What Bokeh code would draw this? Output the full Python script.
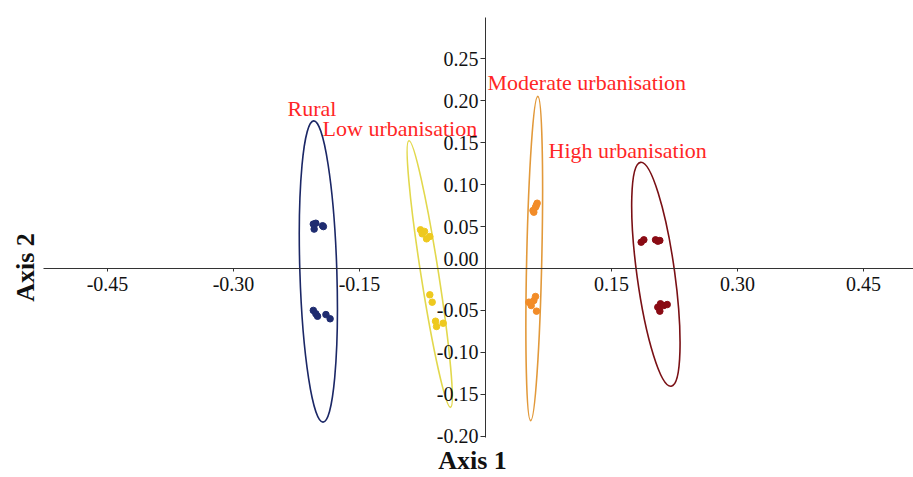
import math
from bokeh.plotting import figure
from bokeh.models import Range1d, FixedTicker, PrintfTickFormatter, Label
from bokeh.core.properties import value
from bokeh.embed import file_html
from bokeh.resources import INLINE

# ---------------- data ----------------
groups = ["Rural", "Low urbanisation", "Moderate urbanisation", "High urbanisation"]

rural_x = [-0.205, -0.202, -0.204, -0.194, -0.193, -0.205, -0.202, -0.200, -0.190, -0.185]
rural_y = [0.053, 0.054, 0.047, 0.051, 0.050, -0.050, -0.054, -0.057, -0.055, -0.060]

low_x = [-0.0774, -0.0754, -0.0726, -0.0702, -0.0663, -0.0663, -0.0635, -0.0595, -0.0583, -0.0504]
low_y = [0.0462, 0.0414, 0.0442, 0.0354, 0.0382, -0.0314, -0.0402, -0.0629, -0.0692, -0.0653]

mod_x = [0.0615, 0.0605, 0.0595, 0.0575, 0.0565, 0.0516, 0.0544, 0.0575, 0.0595, 0.0607]
mod_y = [0.0779, 0.0755, 0.0731, 0.0672, 0.0692, -0.0402, -0.0442, -0.0382, -0.0334, -0.0509]

high_x = [0.1853, 0.1885, 0.2024, 0.2051, 0.2075, 0.2051, 0.2083, 0.2123, 0.2163, 0.2075]
high_y = [0.0314, 0.0342, 0.0342, 0.0326, 0.0334, -0.0462, -0.0421, -0.0442, -0.0430, -0.0509]

# confidence ellipses (centre, minor, major, rotation)
ell_x = [-0.199, -0.0664, 0.058, 0.2028]
ell_y = [-0.0036, -0.0066, 0.0119, -0.0069]
ell_w = [0.044, 0.021, 0.018, 0.045]
ell_h = [0.360, 0.322, 0.387, 0.270]
ell_angle = [0.031, 0.155, -0.022, 0.136]

# group label anchors
label_x = [-0.2357, -0.194, 0.0024, 0.075]
label_y = [0.191, 0.167, 0.222, 0.141]

x_ticks = [-0.45, -0.30, -0.15, 0.15, 0.30, 0.45]
y_ticks = [-0.20, -0.15, -0.10, -0.05, 0.05, 0.10, 0.15, 0.20, 0.25]
y_zero_tick = [0.0]

point_colors = ["#1F2C70", "#EEC91F", "#F28C28", "#8A0B14"]
ellipse_colors = ["#1B2766", "#E2D84C", "#E2993A", "#7A1015"]

FONT = "Liberation Serif"

# ---------------- figure ----------------
p = figure(width=913, height=477,
           x_range=Range1d(-0.5774, 0.5095), y_range=Range1d(-0.2494, 0.3198),
           output_backend="svg", toolbar_location=None,
           min_border=0, min_border_left=0, min_border_right=0,
           min_border_top=0, min_border_bottom=0)
p.outline_line_color = None
p.grid.visible = False
p.background_fill_color = "white"
p.border_fill_color = "white"

for ax in (p.xaxis, p.yaxis):
    ax.fixed_location = 0
    ax.axis_line_color = "#333333"
    ax.axis_line_width = 1
    ax.major_tick_line_color = "#333333"
    ax.minor_tick_line_color = None
    ax.major_tick_in = 0
    ax.major_label_text_font = FONT
    ax.major_label_text_font_size = "20px"
    ax.major_label_text_color = "#111111"
    ax.formatter = PrintfTickFormatter(format="%.2f")

p.xaxis.ticker = FixedTicker(ticks=x_ticks)
p.yaxis.ticker = FixedTicker(ticks=y_ticks)
p.xaxis.bounds = (-0.5262, 0.5095)
p.yaxis.bounds = (-0.2017, 0.2995)
p.xaxis.major_tick_out = 3
p.xaxis.major_label_standoff = 6
p.yaxis.major_tick_out = 5
p.yaxis.major_label_standoff = 2

# zero label on the y axis, lifted above the x axis line
p.text(x=[0.0], y=y_zero_tick, text=["0.00"], x_offset=-7, y_offset=-9,
       text_align="right", text_baseline="middle",
       text_font=value(FONT), text_font_size="20px", text_color="#111111")

# ellipses
for i in range(4):
    p.ellipse(x=[ell_x[i]], y=[ell_y[i]], width=[ell_w[i]], height=[ell_h[i]],
              angle=[ell_angle[i]], fill_color=None,
              line_color=ellipse_colors[i], line_width=1.6)

# points
for xs, ys, c in zip([rural_x, low_x, mod_x, high_x],
                     [rural_y, low_y, mod_y, high_y], point_colors):
    p.scatter(xs, ys, size=6.5, fill_color=c, line_color=c)

# group labels
p.text(x=label_x, y=label_y, text=groups, text_align="left", text_baseline="middle",
       text_font=value(FONT), text_font_size="22px", text_color="#FF2626")

# axis titles
p.add_layout(Label(x=-0.0155, y=-0.2295, text="Axis 1", text_font=FONT,
                   text_font_size="26px", text_font_style="bold",
                   text_align="center", text_baseline="alphabetic",
                   text_color="#111111"))
p.add_layout(Label(x=-0.5476, y=0.0012, text="Axis 2", angle=math.pi / 2,
                   text_font=FONT, text_font_size="26px", text_font_style="bold",
                   text_align="center", text_baseline="middle",
                   text_color="#111111"))

open("out.html", "w").write(file_html(p, INLINE))
